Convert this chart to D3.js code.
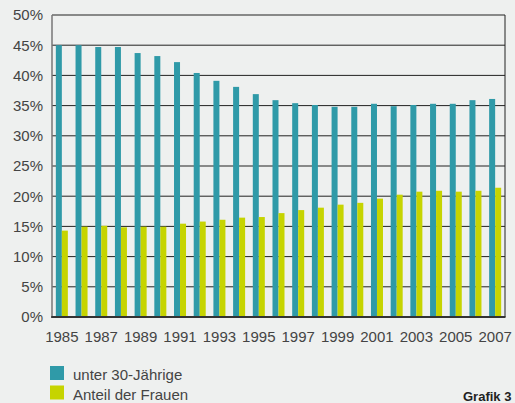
<!DOCTYPE html>
<html>
<head>
    <meta charset="UTF-8">
    <title>unter 30-Jährige / Anteil der Frauen</title>
    <script src="https://d3js.org/d3.v7.min.js"></script>
    <style>
        html, body { margin: 0; padding: 0; background: #eef0ef; }
        svg { display: block; }
    </style>
</head>
<body>
    <div id="chart"></div>

    <script type="text/javascript">
        const years = ["1985", "1986", "1987", "1988", "1989", "1990", "1991", "1992",
                       "1993", "1994", "1995", "1996", "1997", "1998", "1999", "2000",
                       "2001", "2002", "2003", "2004", "2005", "2006", "2007"];

        const under30 = [45.0, 45.0, 44.7, 44.7, 43.7, 43.2, 42.2, 40.4, 39.1, 38.1, 36.9, 35.9,
                         35.4, 35.1, 34.8, 34.8, 35.3, 34.9, 35.1, 35.3, 35.3, 35.9, 36.1];

        const women = [14.3, 14.95, 15.1, 14.85, 14.95, 14.95, 15.45, 15.8, 16.1, 16.45, 16.55, 17.2,
                       17.7, 18.1, 18.6, 18.9, 19.6, 20.25, 20.75, 20.9, 20.75, 20.9, 21.4];

        const seriesNames = ["unter 30-Jährige", "Anteil der Frauen"];
        const seriesColors = ["#2f9aa8", "#c6d400"];
        const yTicks = [0, 5, 10, 15, 20, 25, 30, 35, 40, 45, 50];
        const xTickLabels = ["1985", "1987", "1989", "1991", "1993", "1995", "1997", "1999", "2001", "2003", "2005", "2007"];

        const W = 515, H = 403;
        const plot = { left: 52, right: 505, top: 15, bottom: 317 };
        const font = "'Liberation Sans', Arial, Helvetica, sans-serif";

        const svg = d3.select("#chart").append("svg")
            .attr("width", W)
            .attr("height", H)
            .attr("font-family", font);

        const x0 = d3.scaleBand().domain(years).range([plot.left, plot.right]);
        const x1 = d3.scaleBand().domain([0, 1]).range([0, x0.bandwidth()]).paddingOuter(0.64);
        const y = d3.scaleLinear().domain([0, 50]).range([plot.bottom, plot.top]);

        // horizontal grid lines
        svg.append("g").selectAll("line").data(yTicks.filter(d => d > 0)).join("line")
            .attr("x1", plot.left)
            .attr("x2", plot.right)
            .attr("y1", d => y(d))
            .attr("y2", d => y(d))
            .attr("stroke", "#222")
            .attr("stroke-width", 1);

        // right border
        svg.append("line")
            .attr("x1", plot.right).attr("x2", plot.right)
            .attr("y1", plot.top).attr("y2", plot.bottom)
            .attr("stroke", "#222");

        // bars
        const rows = years.map((yr, i) => ({ year: yr, values: [under30[i], women[i]] }));
        const groups = svg.append("g").selectAll("g").data(rows).join("g")
            .attr("transform", d => `translate(${x0(d.year)},0)`);

        groups.selectAll("rect").data(d => d.values.map((v, k) => ({ k: k, v: v }))).join("rect")
            .attr("x", d => x1(d.k))
            .attr("width", x1.bandwidth())
            .attr("y", d => y(d.v))
            .attr("height", d => y(0) - y(d.v))
            .attr("fill", d => seriesColors[d.k]);

        // left axis line
        svg.append("line")
            .attr("x1", plot.left).attr("x2", plot.left)
            .attr("y1", plot.top).attr("y2", plot.bottom + 1)
            .attr("stroke", "#777")
            .attr("stroke-width", 1.5);

        // bottom axis line
        svg.append("line")
            .attr("x1", plot.left - 0.75).attr("x2", plot.right + 0.5)
            .attr("y1", plot.bottom).attr("y2", plot.bottom)
            .attr("stroke", "#333")
            .attr("stroke-width", 2);

        // y labels
        svg.append("g").selectAll("text").data(yTicks).join("text")
            .attr("x", 43)
            .attr("y", d => y(d))
            .attr("dy", "0.36em")
            .attr("text-anchor", "end")
            .attr("font-size", 15)
            .attr("fill", "#444")
            .text(d => d + "%");

        // x labels
        svg.append("g").selectAll("text").data(xTickLabels).join("text")
            .attr("x", d => x0(d) + x0.bandwidth() / 2)
            .attr("y", 342)
            .attr("text-anchor", "middle")
            .attr("font-size", 15)
            .attr("fill", "#444")
            .text(d => d);

        // legend
        const legend = svg.append("g").selectAll("g").data(seriesNames).join("g")
            .attr("transform", (d, i) => `translate(50,${366 + i * 19.5})`);
        legend.append("rect")
            .attr("width", 14)
            .attr("height", 14)
            .attr("fill", (d, i) => seriesColors[i]);
        legend.append("text")
            .attr("x", 23)
            .attr("y", 14)
            .attr("font-size", 15)
            .attr("fill", "#444")
            .text(d => d);

        svg.append("text")
            .attr("x", 463)
            .attr("y", 401)
            .attr("font-size", 13)
            .attr("font-weight", "bold")
            .attr("fill", "#222")
            .text("Grafik 3");
    </script>
</body>
</html>
